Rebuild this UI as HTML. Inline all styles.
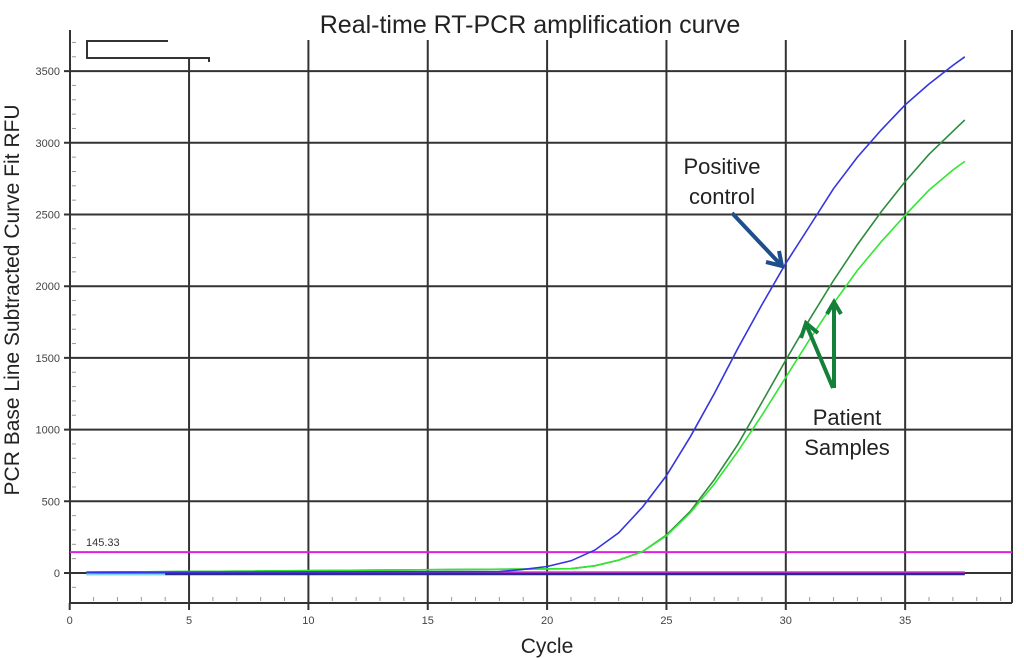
<!DOCTYPE html>
<html><head><meta charset="utf-8"><style>
body{margin:0;background:#fff;}
svg{display:block;font-family:"Liberation Sans",sans-serif;}
</style></head><body>
<svg id="c" width="1024" height="658">
<text x="530" y="33" font-size="25" text-anchor="middle" fill="#222">Real-time RT-PCR amplification curve</text>
<text transform="translate(19,300) rotate(-90)" font-size="21" text-anchor="middle" fill="#222">PCR Base Line Subtracted Curve Fit RFU</text>
<text x="547" y="653" font-size="21" text-anchor="middle" fill="#222">Cycle</text>
<g id="grid"></g>
<g id="series"></g>
<g stroke="#333" stroke-width="2" fill="none"><path d="M168 41 H87 V58 H209 V62"/></g>
<text x="722" y="174" font-size="22" text-anchor="middle" fill="#222">Positive</text>
<text x="722" y="204" font-size="22" text-anchor="middle" fill="#222">control</text>
<g stroke="#1f4e8c" stroke-width="4" fill="none"><path d="M732 213 L781 265 M766 262 L782 266 L779 251"/></g>
<text x="847" y="425" font-size="22" text-anchor="middle" fill="#222">Patient</text>
<text x="847" y="455" font-size="22" text-anchor="middle" fill="#222">Samples</text>
<g stroke="#14803a" stroke-width="4" fill="none"><path d="M833 388 L806 324 M801 338 L806 323 L818 333 M834 388 L834 302 M827 314 L834 302 L841 314"/></g>
</svg>
<script>
const xTicks=[0,5,10,15,20,25,30,35];
const yTicks=[0,500,1000,1500,2000,2500,3000,3500];
const threshold=145.33;
const blueCycles=[18,19,20,21,22,23,24,25,26,27,28,29,30,31,32,33,34,35,36,37,37.5];
const blueValues=[10,25,45,85,160,280,460,680,950,1250,1570,1870,2160,2420,2680,2900,3090,3265,3410,3540,3600];
const greenCycles=[21,22,23,24,25,26,27,28,29,30,31,32,33,34,35,36,37,37.5];
const darkGreenValues=[30,50,90,150,265,430,650,900,1190,1485,1770,2040,2290,2520,2730,2920,3080,3160];
const lightGreenValues=[30,50,90,150,260,420,620,850,1100,1365,1630,1880,2110,2310,2495,2670,2810,2870];
const X=c=>69.7+c*23.87;
const Y=v=>573-v*0.1434;
const NS="http://www.w3.org/2000/svg";
const g=document.getElementById('grid'),s=document.getElementById('series');
function mk(tag,at,parent){const e=document.createElementNS(NS,tag);for(const k in at)e.setAttribute(k,at[k]);parent.appendChild(e);return e;}
// axes
let e;
e=mk('line',{x1:70,y1:30,x2:70,y2:603,stroke:'#333','stroke-width':2},g);


e=mk('line',{x1:70,y1:603,x2:1012,y2:603,stroke:'#333','stroke-width':2},g);


e=mk('line',{x1:1012,y1:30,x2:1012,y2:603,stroke:'#333','stroke-width':2},g);


for(let v=-200;v<=3800;v+=100){const y=Y(v);if(y<32||y>600)continue;
 e=mk('line',{x1:72,y1:y,x2:76,y2:y,stroke:'#999','stroke-width':1},g);
 
 }
for(let c=1;c<=39;c++){const x=X(c);if(x>1008)continue;
 e=mk('line',{x1:x,y1:597,x2:x,y2:601,stroke:'#999','stroke-width':1},g);
 
 }
yTicks.forEach(v=>{const y=Y(v);
 e=mk('line',{x1:64,y1:y,x2:1012,y2:y,stroke:'#333','stroke-width':2},g);
 
 
 e=mk('text',{x:60,y:y+4,'font-size':11,'text-anchor':'end',fill:'#444'},g);e.textContent=v;
 
 });
xTicks.forEach(c=>{const x=X(c);
 e=mk('line',{x1:x,y1:c===0?603:(c===5?58:40),x2:x,y2:610,stroke:'#333','stroke-width':2},g);
 
 
 e=mk('text',{x:x,y:624,'font-size':11,'text-anchor':'middle',fill:'#444'},g);e.textContent=c;
 
 });
// threshold
e=mk('line',{x1:70,y1:Y(threshold),x2:1012,y2:Y(threshold),stroke:'#e020e0','stroke-width':2},s);


e=mk('text',{x:86,y:Y(threshold)-6,'font-size':11,fill:'#333'},s);e.textContent=threshold.toFixed(2);


// baselines
e=mk('line',{x1:X(0.7),y1:Y(0)+1,x2:X(37.5),y2:Y(0)+1,stroke:'#2a2a90','stroke-width':2.5},s);


e=mk('line',{x1:X(0.7),y1:Y(0)-1,x2:X(37.5),y2:Y(0)-1,stroke:'#e030e0','stroke-width':1.5},s);


e=mk('line',{x1:X(0.7),y1:Y(0)+1.5,x2:X(4),y2:Y(0)+1.5,stroke:'#80d8f0','stroke-width':2},s);


function curve(cs,vs,col,name){
 let d='M'+X(0.7)+' '+Y(5);
 cs.forEach((c,i)=>{d+=' L'+X(c).toFixed(1)+' '+Y(vs[i]).toFixed(1);});
 const p=mk('path',{d:d,fill:'none',stroke:col,'stroke-width':1.6},s);
 
 }
curve(darkGreenValues.length?greenCycles:[],darkGreenValues,'#2e8b3e','patient-sample-1-curve');
curve(greenCycles,lightGreenValues,'#33e633','patient-sample-2-curve');
curve(blueCycles,blueValues,'#3535e0','positive-control-curve');
</script>
</body></html>
